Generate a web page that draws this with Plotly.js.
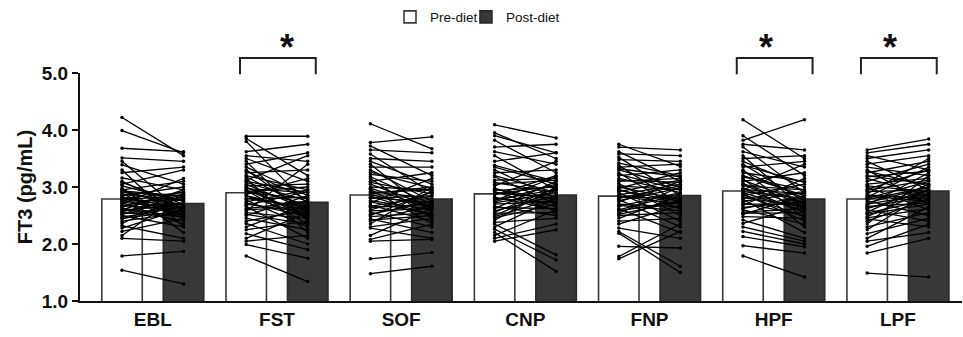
<!DOCTYPE html>
<html>
<head>
<meta charset="utf-8">
<script src="https://cdn.plot.ly/plotly-3.0.1.min.js"></script>
<style>html,body{margin:0;padding:0;background:#fff;}#chart{width:963px;height:337px;}</style>
</head>
<body>
<div id="chart"></div>
<script>
// ---- data ----
const categories = ['EBL', 'FST', 'SOF', 'CNP', 'FNP', 'HPF', 'LPF'];
const preMean  = [2.79, 2.90, 2.86, 2.88, 2.84, 2.93, 2.79];
const postMean = [2.71, 2.73, 2.79, 2.86, 2.85, 2.79, 2.93];
const significant = ['FST', 'HPF', 'LPF'];
const legendNames = ['Pre-diet', 'Post-diet'];

const preEBL  = [4.22,3.99,3.68,3.51,3.45,3.39,3.30,3.25,3.16,3.10,3.05,3.02,2.98,2.95,2.92,2.90,2.88,2.85,2.82,2.80,2.78,2.75,2.72,2.70,2.68,2.65,2.62,2.60,2.58,2.55,2.52,2.50,2.47,2.44,2.40,2.36,2.32,2.28,2.22,2.15,2.10,1.79,1.54,2.95,2.87,2.83,2.77,2.73,2.66,2.63,2.57,2.53,2.45,3.08,2.93];
const postEBL = [3.55,3.60,3.62,3.45,2.55,3.05,2.30,3.35,2.95,2.60,3.30,2.75,2.20,3.10,2.68,2.85,2.45,3.00,2.62,2.90,2.50,2.78,2.35,3.15,2.58,2.82,2.40,2.95,2.70,2.48,2.88,2.30,2.65,2.72,2.55,2.85,2.10,2.62,2.45,2.90,2.05,1.87,1.30,2.62,2.76,2.52,2.86,2.64,2.92,2.47,2.80,2.66,2.58,2.70,2.84];

const preFST  = [3.89,3.85,3.80,3.62,3.55,3.50,3.45,3.40,3.35,3.30,3.25,3.20,3.15,3.12,3.08,3.05,3.02,3.00,2.97,2.94,2.90,2.87,2.84,2.80,2.77,2.74,2.70,2.66,2.62,2.58,2.55,2.50,2.45,2.40,2.36,2.30,2.25,2.18,2.10,2.05,1.99,1.79,3.18,3.10,2.99,2.92,2.85,2.79,2.72,2.68,2.60,2.52,3.28,2.95];
const postFST = [3.89,3.20,2.70,3.75,3.45,3.10,2.40,3.60,2.85,2.55,3.30,2.95,2.20,3.55,2.75,2.60,3.05,2.45,2.90,2.35,2.80,3.15,2.50,2.65,2.30,2.95,2.55,2.10,2.75,3.40,2.45,2.85,2.25,2.60,2.00,2.70,2.40,1.90,2.55,2.15,1.75,1.34,2.62,2.90,2.68,3.00,2.58,2.82,2.48,2.92,2.65,2.35,2.78,2.52];

const preSOF  = [4.11,3.78,3.72,3.65,3.58,3.50,3.45,3.40,3.35,3.30,3.22,3.15,3.10,3.05,3.00,2.96,2.92,2.88,2.84,2.80,2.76,2.72,2.68,2.64,2.60,2.56,2.52,2.48,2.44,2.40,2.35,2.30,2.28,2.15,2.08,2.05,1.74,1.48,3.18,3.08,2.98,2.90,2.82,2.74,2.66,2.58,2.50,2.42,3.26,2.86];
const postSOF = [3.67,3.88,3.20,3.60,2.90,3.45,3.05,2.55,3.35,2.75,3.10,2.45,3.25,2.65,2.95,2.35,2.80,3.00,2.50,2.85,2.60,3.15,2.40,2.70,2.90,2.30,2.75,2.55,2.20,2.68,3.00,2.45,2.10,2.62,2.35,2.08,1.85,1.61,2.70,2.88,2.62,2.95,2.72,2.52,2.84,2.62,2.92,2.50,2.98,2.66];

const preCNP  = [4.09,3.95,3.90,3.82,3.70,3.62,3.55,3.45,3.38,3.30,3.25,3.18,3.12,3.08,3.02,2.98,2.94,2.90,2.86,2.82,2.78,2.74,2.70,2.66,2.62,2.58,2.54,2.50,2.46,2.42,2.38,2.35,2.30,2.26,2.20,2.15,2.10,2.05,3.20,3.05,2.96,2.88,2.80,2.72,2.64,2.56,2.48,3.35,2.92,2.76];
const postCNP = [3.86,3.50,3.60,3.25,3.75,3.40,2.95,3.60,3.10,2.80,3.30,2.70,3.15,2.90,3.45,2.65,3.00,2.80,3.20,2.60,2.95,3.05,2.75,2.50,3.10,2.85,2.55,2.95,2.70,3.00,2.45,1.81,2.80,1.72,1.52,2.60,2.35,2.25,2.90,3.12,2.78,3.02,2.72,2.90,2.62,2.98,2.80,3.05,2.58,3.18];

const preFNP  = [3.75,3.70,3.62,3.58,3.52,3.48,3.42,3.38,3.35,3.30,3.25,3.20,3.15,3.10,3.06,3.02,2.98,2.94,2.90,2.86,2.82,2.78,2.74,2.70,2.66,2.62,2.58,2.54,2.50,2.45,2.40,2.35,2.28,2.22,2.19,1.96,1.78,1.74,3.22,3.12,3.00,2.92,2.84,2.76,2.68,2.60,2.52,3.32,2.96,2.80];
const postFNP = [3.36,3.65,3.10,3.55,2.85,3.45,3.20,2.70,3.40,3.00,2.60,3.30,2.90,3.15,2.50,2.95,3.25,2.75,2.40,3.05,2.80,2.30,3.10,2.65,2.90,2.20,2.75,3.00,2.55,2.85,2.45,2.68,2.10,1.61,1.50,1.93,2.35,2.22,2.95,3.08,2.78,3.12,2.70,2.98,2.58,2.88,2.75,3.18,2.62,3.02];

const preHPF  = [4.18,3.90,3.82,3.75,3.70,3.62,3.55,3.50,3.45,3.40,3.35,3.30,3.25,3.20,3.15,3.10,3.06,3.02,2.98,2.95,2.92,2.88,2.85,2.82,2.78,2.75,2.72,2.68,2.64,2.60,2.56,2.52,2.48,2.42,2.36,2.30,2.22,2.13,1.97,1.79,3.28,3.18,3.04,2.96,2.90,2.80,2.70,2.62,2.54,3.38,2.86,3.12];
const postHPF = [3.50,3.20,4.18,3.65,2.90,3.35,2.60,3.55,3.00,2.75,3.45,2.45,3.10,2.85,2.30,3.25,2.70,2.95,2.55,3.40,2.80,2.40,3.05,2.65,2.20,2.90,2.50,3.15,2.75,2.35,2.62,2.85,2.45,2.10,2.68,2.05,2.00,1.95,1.84,1.42,2.80,2.95,2.62,2.88,2.58,2.92,2.70,2.85,2.55,3.08,2.48,2.72];

const preLPF  = [3.65,3.60,3.55,3.50,3.45,3.40,3.35,3.30,3.25,3.20,3.15,3.10,3.05,3.00,2.96,2.92,2.88,2.84,2.80,2.76,2.72,2.68,2.64,2.60,2.56,2.52,2.48,2.44,2.40,2.35,2.30,2.25,2.18,2.10,2.05,1.96,1.84,1.49,3.18,3.02,2.94,2.86,2.78,2.70,2.62,2.54,2.46,3.28,2.82,2.66];
const postLPF = [3.84,3.75,3.30,3.65,2.95,3.55,3.20,2.70,3.45,3.05,2.85,3.40,3.15,2.60,3.30,2.95,3.50,2.75,3.10,2.50,3.00,3.25,2.85,2.40,3.05,2.70,2.95,2.30,2.80,3.20,2.55,2.90,2.45,2.65,2.20,2.35,2.10,1.42,3.28,2.92,3.12,2.80,3.00,2.88,2.95,2.78,2.62,3.02,3.35,2.72];

const pairs = {
  EBL: [preEBL, postEBL], FST: [preFST, postFST], SOF: [preSOF, postSOF],
  CNP: [preCNP, postCNP], FNP: [preFNP, postFNP], HPF: [preHPF, postHPF], LPF: [preLPF, postLPF]
};

// ---- layout constants ----
const OFF = 0.2476;     // offset of pre/post bar centre from group centre
const BARW = 0.326;
const XMIN = -0.586, XMAX = 6.516;
const FONT = 'Liberation Sans, Arial, Helvetica, sans-serif';
const idx = categories.map((c, i) => i);

const traces = [];
traces.push({
  type: 'bar', name: legendNames[0], legend: 'legend', x: idx.map(i => i - OFF), y: preMean, width: BARW,
  marker: {color: '#ffffff', line: {color: '#3a3a3a', width: 1.6}}, hoverinfo: 'skip'
});
traces.push({
  type: 'bar', name: legendNames[1], legend: 'legend2', x: idx.map(i => i + OFF), y: postMean, width: BARW,
  marker: {color: '#383838', line: {color: '#2a2a2a', width: 1.6}}, hoverinfo: 'skip'
});

categories.forEach((c, i) => {
  const [pre, post] = pairs[c];
  const xs = [], ys = [];
  pre.forEach((v, k) => { xs.push(i - OFF, i + OFF, null); ys.push(v, post[k], null); });
  traces.push({
    type: 'scatter', mode: 'lines+markers', x: xs, y: ys, showlegend: false,
    line: {color: '#000000', width: 1.3}, marker: {color: '#000000', size: 3.5},
    connectgaps: false, hoverinfo: 'skip', cliponaxis: false
  });
});

// significance brackets (paper coords computed from the group positions)
const toPaper = x => (x - XMIN) / (XMAX - XMIN);
const shapes = [], annotations = [];
significant.forEach(c => {
  const i = categories.indexOf(c);
  const x0 = toPaper(i - OFF - 0.05), x1 = toPaper(i + OFF + 0.065);
  const yTop = 1.066, yBot = 0.995;
  shapes.push({type: 'path', xref: 'paper', yref: 'paper',
    path: `M ${x0} ${yBot} L ${x0} ${yTop} L ${x1} ${yTop} L ${x1} ${yBot}`,
    line: {color: '#222222', width: 2}});
  annotations.push({xref: 'paper', yref: 'paper', x: (x0 + x1) / 2, y: 1.112, yanchor: 'middle',
    text: '*', showarrow: false, font: {family: FONT, size: 36, color: '#111', weight: 'bold'}});
});

const legendCommon = {orientation: 'h', y: 1.245, yanchor: 'middle', xanchor: 'left',
  font: {family: FONT, size: 13.5, color: '#111'}, itemwidth: 30, bgcolor: 'rgba(0,0,0,0)'};

const layout = {
  width: 963, height: 337,
  margin: {l: 80, r: 1, t: 73, b: 36, pad: 0},
  paper_bgcolor: '#ffffff', plot_bgcolor: '#ffffff',
  font: {family: FONT, color: '#111'},
  barmode: 'overlay',
  showlegend: true,
  legend: Object.assign({}, legendCommon, {x: 0.3515}),
  legend2: Object.assign({}, legendCommon, {x: 0.4376}),
  xaxis: {range: [XMIN, XMAX], tickvals: idx, ticktext: categories, showline: true,
          linewidth: 2, linecolor: '#111', ticks: '', showgrid: false, zeroline: false,
          tickfont: {family: FONT, size: 19, color: '#111', weight: 'bold'}, fixedrange: true},
  yaxis: {range: [1, 5], tickvals: [1, 2, 3, 4, 5], ticktext: ['1.0', '2.0', '3.0', '4.0', '5.0'],
          showline: true, linewidth: 2, linecolor: '#111', ticks: 'outside', ticklen: 6,
          tickwidth: 2, tickcolor: '#111', showgrid: false, zeroline: false,
          tickfont: {family: FONT, size: 19, color: '#111', weight: 'bold'},
          title: {text: 'FT3 (pg/mL)', standoff: 4,
                  font: {family: FONT, size: 20, color: '#111', weight: 'bold'}}, fixedrange: true},
  shapes: shapes, annotations: annotations
};

Plotly.newPlot('chart', traces, layout, {displayModeBar: false, staticPlot: true});
</script>
</body>
</html>
